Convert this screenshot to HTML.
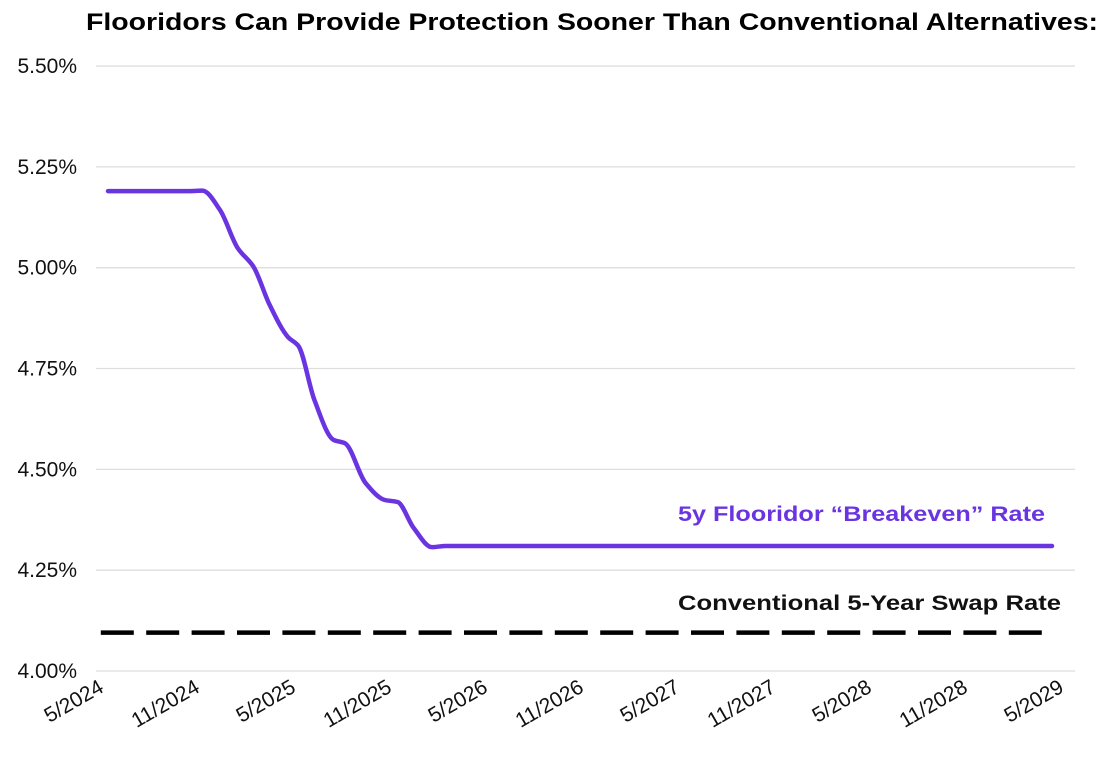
<!DOCTYPE html>
<html><head><meta charset="utf-8"><style>
body{margin:0;background:#fff;}
svg{display:block;font-family:"Liberation Sans",sans-serif;}
</style></head><body>
<svg id="chart" width="1120" height="764" viewBox="0 0 1120 764">
<text x="592" y="30" text-anchor="middle" font-size="24" font-weight="bold" fill="#000" textLength="1012" lengthAdjust="spacingAndGlyphs">Flooridors Can Provide Protection Sooner Than Conventional Alternatives:</text>
<g id="grid"></g>
<g id="yticks"></g>
<g id="xticks"></g>
<g id="series"></g>
<text x="1045" y="521" text-anchor="end" font-size="21" font-weight="bold" fill="#6a35e0" textLength="367" lengthAdjust="spacingAndGlyphs">5y Flooridor “Breakeven” Rate</text>
<text x="1061" y="610" text-anchor="end" font-size="21" font-weight="bold" fill="#111" textLength="383" lengthAdjust="spacingAndGlyphs">Conventional 5-Year Swap Rate</text>
</svg>
<script>
const yTicks=[4.00,4.25,4.50,4.75,5.00,5.25,5.50];
const xTickMonths=[0,6,12,18,24,30,36,42,48,54,60];
const xTickLabels=["5/2024","11/2024","5/2025","11/2025","5/2026","11/2026","5/2027","11/2027","5/2028","11/2028","5/2029"];
const flooridorMonths=[0,5.1,5.9,7,8.1,9.1,10.1,11.25,11.9,12.9,14.1,14.8,16.1,17.3,18.1,19.1,20.25,21.1,59];
const flooridorRates=[5.19,5.19,5.191,5.143,5.049,5.002,4.908,4.828,4.806,4.672,4.573,4.565,4.466,4.424,4.419,4.355,4.307,4.31,4.31];
const swapMonths=[-0.45,58.4];
const swapRate=[4.095,4.095];

const NS="http://www.w3.org/2000/svg";
const X=m=>108+16.0*m;
const Y=v=>671-(v-4)*403.3;
function mk(t,a,p){const e=document.createElementNS(NS,t);for(const k in a)e.setAttribute(k,a[k]);p.appendChild(e);return e;}
const grid=document.getElementById('grid'),yt=document.getElementById('yticks'),xt=document.getElementById('xticks'),ser=document.getElementById('series');
yTicks.forEach(v=>{
  const l=mk('line',{x1:96,x2:1075,y1:Y(v),y2:Y(v),stroke:'#dedede','stroke-width':1.3},grid);
  
  
  const t=mk('text',{x:77,y:Y(v)+7,'text-anchor':'end','font-size':21,fill:'#111'},yt);
  t.textContent=v.toFixed(2)+'%';
  
  
});
xTickMonths.forEach((m,i)=>{
  const x=X(m)-3,y=691;
  const t=mk('text',{x:x,y:y,'text-anchor':'end','font-size':21,fill:'#111',transform:`rotate(-30 ${x} ${y})`},xt);
  t.textContent=xTickLabels[i];
  
  
});
const sw=mk('line',{x1:X(swapMonths[0]),x2:X(swapMonths[1]),y1:Y(swapRate[0]),y2:Y(swapRate[1]),stroke:'#000','stroke-width':4.5,'stroke-dasharray':'33 12.4'},ser);


// monotone cubic (Fritsch-Carlson)
const pts=flooridorMonths.map((m,i)=>[X(m),Y(flooridorRates[i])]);
const n=pts.length,dx=[],sl=[],tg=[];
for(let i=0;i<n-1;i++){dx[i]=pts[i+1][0]-pts[i][0];sl[i]=(pts[i+1][1]-pts[i][1])/dx[i];}
tg[0]=sl[0];tg[n-1]=sl[n-2];
for(let i=1;i<n-1;i++){
  if(sl[i-1]*sl[i]<=0)tg[i]=0;
  else{const w1=2*dx[i]+dx[i-1],w2=dx[i]+2*dx[i-1];tg[i]=(w1+w2)/(w1/sl[i-1]+w2/sl[i]);}
}
let d=`M${pts[0][0]},${pts[0][1]}`;
for(let i=0;i<n-1;i++){
  const h=dx[i]/3;
  d+=` C${pts[i][0]+h},${pts[i][1]+tg[i]*h} ${pts[i+1][0]-h},${pts[i+1][1]-tg[i+1]*h} ${pts[i+1][0]},${pts[i+1][1]}`;
}
const fl=mk('path',{d:d,fill:'none',stroke:'#6a35e0','stroke-width':4.5,'stroke-linecap':'round','stroke-linejoin':'round'},ser);


</script>
</body></html>
